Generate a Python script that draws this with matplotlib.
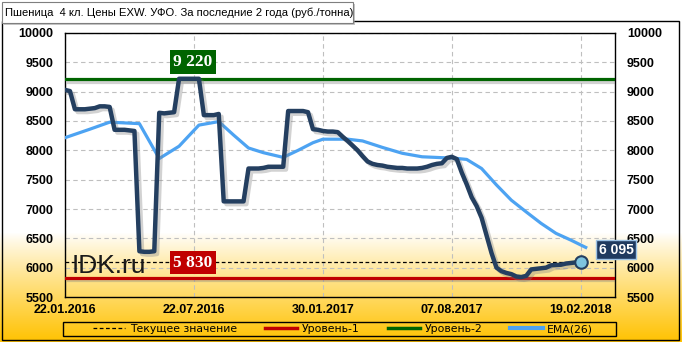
import numpy as np
from matplotlib import pyplot as plt
from matplotlib import patheffects as pe
from matplotlib.lines import Line2D
from matplotlib.patches import Rectangle

TITLE = "Пшеница  4 кл. Цены EXW. УФО. За последние 2 года (руб./тонна)"

tick_weeks = [0, 26, 52, 78, 104]
tick_labels = ["22.01.2016", "22.07.2016", "30.01.2017", "07.08.2017", "19.02.2018"]

# weekly price, rub/t
price = [
    9030, 9010, 8700, 8700, 8700, 8710, 8720, 8750, 8750, 8740,
    8350, 8350, 8350, 8340, 8330, 6280, 6270, 6270, 6280, 8640,
    8630, 8640, 8650, 9220, 9220, 9220, 9220, 9220, 8600, 8600,
    8600, 8620, 7130, 7130, 7130, 7130, 7130, 7690, 7690, 7690,
    7700, 7720, 7720, 7720, 7720, 8670, 8670, 8670, 8670, 8650,
    8360, 8350, 8330, 8320, 8320, 8310, 8230, 8160, 8080, 8000,
    7900, 7810, 7770, 7750, 7740, 7720, 7710, 7700, 7700, 7690,
    7690, 7690, 7700, 7720, 7750, 7770, 7780, 7870, 7890, 7850,
    7620, 7420, 7200, 7050, 6850, 6550, 6250, 6000, 5940, 5910,
    5890, 5850, 5840, 5860, 5970, 5980, 5990, 6000, 6040, 6045,
    6050, 6070, 6080, 6090, 6095,
]

ema_weeks = [0, 5, 9, 15, 19, 23, 27, 31, 34, 37, 40, 44, 47, 50, 52, 57,
             60, 64, 68, 72, 76, 78, 81, 84, 87, 90, 93, 96, 99, 102, 105]
ema = [8215, 8360, 8480, 8455, 7860, 8070, 8430, 8490, 8260, 8040, 7960,
       7880, 8000, 8130, 8190, 8190, 8160, 8050, 7950, 7890, 7875, 7870,
       7845, 7690, 7410, 7150, 6950, 6755, 6585, 6470, 6345]

current = 6095
level_1 = 5830
level_2 = 9220

legend_labels = ["Текущее значение", "Уровень-1", "Уровень-2", "EMA(26)"]

DARK = "#243F60"
EMA_C = "#4DA3F2"
GREEN = "#006400"
RED = "#C00000"


def fmt(v):
    return f"{v:,}".replace(",", " ")


fig = plt.figure(figsize=(6.82, 3.42), dpi=100)

# white -> orange gradient in the lower part of the picture
bg = fig.add_axes([0, 0, 1, 1], zorder=-10)
rows = np.arange(342)
t = np.clip((rows - 232) / (342 - 232), 0, 1) ** 0.9
top = np.array([1.0, 1.0, 1.0])
bottom = np.array([1.0, 0.76, 0.0])
grad = (1 - t)[:, None] * top + t[:, None] * bottom
bg.imshow(grad[:, None, :], aspect="auto", extent=[0, 1, 0, 1])
bg.axis("off")

ax = fig.add_axes([65 / 682, 45 / 342, 550 / 682, 264 / 342])
ax.set_facecolor("none")

weeks = np.arange(len(price))
shadow = [pe.SimpleLineShadow(offset=(2, -2), shadow_color="gray", alpha=0.35), pe.Normal()]

ax.axhline(level_2, color=GREEN, lw=2.3, path_effects=shadow, zorder=3)
ax.axhline(level_1, color=RED, lw=2.3, path_effects=shadow, zorder=3)
ax.axhline(current, color="black", lw=0.9, ls=(0, (3, 2)), zorder=3)
ax.plot(ema_weeks, ema, color=EMA_C, lw=2.3, zorder=4)
ax.plot(weeks, price, color=DARK, lw=3.2, solid_joinstyle="round",
        path_effects=shadow, zorder=5)
ax.plot(weeks[-1], price[-1], "o", ms=9, mfc="#7EC4DF", mec=DARK, mew=1.5, zorder=6)

ax.set_xlim(0, 110.9)
ax.set_ylim(5500, 10000)
ax.set_yticks(np.arange(5500, 10001, 500))
ax.set_xticks(tick_weeks)
ax.set_xticklabels(tick_labels)
ax.grid(color="#BFBFBF", ls=(0, (4, 3)), lw=0.8)
ax.set_axisbelow(True)
ax.tick_params(axis="y", length=0, pad=8.5, labelleft=True, labelright=True)
ax.tick_params(axis="x", length=0, pad=5)
for lab in ax.get_xticklabels() + ax.get_yticklabels():
    lab.set_fontfamily("Liberation Sans")
    lab.set_fontweight("bold")
    lab.set_fontsize(9)
for sp in ax.spines.values():
    sp.set_color("black")
    sp.set_linewidth(1)

# value tags
ax.text(25.8, level_2 + 290, fmt(level_2), ha="center", va="center", color="white",
        fontsize=12.5, fontweight="bold", family="Liberation Serif", zorder=7,
        bbox=dict(boxstyle="square,pad=0.22", fc=GREEN, ec="none"))
ax.text(25.8, level_1 + 258, fmt(level_1), ha="center", va="center", color="white",
        fontsize=12.5, fontweight="bold", family="Liberation Serif", zorder=7,
        bbox=dict(boxstyle="square,pad=0.22", fc=RED, ec="none"))
ax.text(111.1, current + 214, fmt(current), ha="center", va="center", color="white",
        fontsize=10, fontweight="bold", family="Liberation Sans", zorder=7, clip_on=False,
        bbox=dict(boxstyle="square,pad=0.2", fc="#1F3A5F", ec="#9DC3E6", lw=1))

ax.text(0.012, 0.119, "IDK.ru", transform=ax.transAxes, ha="left", va="center",
        fontsize=19, family="Liberation Sans", color="#1a1a1a", zorder=7)

# outer frame and title box
fig.patches.append(Rectangle((2 / 682, 2 / 342), 677 / 682, 319 / 342,
                             transform=fig.transFigure, fill=False, ec="black", lw=1))
fig.patches.append(Rectangle((4 / 682, (342 - 25) / 342), 351 / 682, 21 / 342,
                             transform=fig.transFigure, fc="#A0A0A0", ec="none", alpha=0.6))
fig.patches.append(Rectangle((2 / 682, (342 - 23) / 342), 351 / 682, 21 / 342,
                             transform=fig.transFigure, fc="white", ec="#7F7F7F", lw=0.8))
fig.text(5 / 682, (342 - 12.5) / 342, TITLE, ha="left", va="center", fontsize=8.1,
         family="Liberation Sans", color="black")

# legend: box drawn separately, entries centred like the reference
fig.patches.append(Rectangle((63 / 682, 6 / 342), 553 / 682, 14 / 342,
                             transform=fig.transFigure, fill=False, ec="black", lw=1))
handles = [
    Line2D([], [], color="black", lw=0.9, ls=(0, (3, 2))),
    Line2D([], [], color=RED, lw=2.5),
    Line2D([], [], color=GREEN, lw=2.5),
    Line2D([], [], color=EMA_C, lw=3),
]
fig.legend(handles, legend_labels, loc="center", ncol=4,
           bbox_to_anchor=(343 / 682, 13 / 342), frameon=False,
           borderpad=0, handlelength=3.0, handletextpad=0.4, columnspacing=2.6,
           prop={"family": "DejaVu Sans", "size": 7.8})

fig.savefig("out.png", dpi=100)
